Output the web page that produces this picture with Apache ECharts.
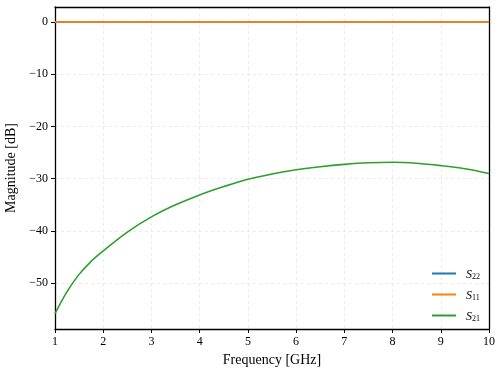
<!DOCTYPE html>
<html>
<head>
<meta charset="utf-8">
<script src="https://cdn.jsdelivr.net/npm/echarts@6/dist/echarts.min.js"></script>
<style>html,body{margin:0;padding:0;background:#fff;}#c{width:504px;height:375px;}</style>
</head>
<body>
<div id="c"></div>
<script>
// Frequencies (GHz)
const freq = [1.0, 1.25, 1.5, 1.75, 2.0, 2.5, 3.0, 3.5, 4.0, 4.5, 5.0, 5.5, 6.0, 6.5, 7.0, 7.5, 8.0, 8.5, 9.0, 9.5, 10.0];
// S22 magnitude (dB)
const s22 = [0, 0, 0, 0, 0, 0, 0, 0, 0, 0, 0, 0, 0, 0, 0, 0, 0, 0, 0, 0, 0];
// S11 magnitude (dB)
const s11 = [0, 0, 0, 0, 0, 0, 0, 0, 0, 0, 0, 0, 0, 0, 0, 0, 0, 0, 0, 0, 0];
// S21 magnitude (dB)
const s21 = [-55.8, -51.6, -48.3, -45.8, -43.8, -40.2, -37.3, -35.0, -33.1, -31.5, -30.1, -29.1, -28.3, -27.7, -27.25, -26.95, -26.85, -27.05, -27.5, -28.1, -29.0];
const seriesNames = ['S22', 'S11', 'S21'];
const xTicks = [1, 2, 3, 4, 5, 6, 7, 8, 9, 10];

const pairs = arr => freq.map((f, i) => [f, arr[i]]);
const serif = 'Liberation Serif';
const chart = echarts.init(document.getElementById('c'), null, {renderer: 'canvas'});
const colors = ['#1f77b4', '#ff7f0e', '#2ca02c'];
const gridLine = {show: true, showMinLine: false, showMaxLine: false, lineStyle: {color: '#e6e6e6', type: [3, 3], width: 0.8}};
const frameAxis = {show: true, onZero: false, lineStyle: {color: '#000', width: 1.3}};
chart.setOption({
  animation: false,
  backgroundColor: '#fff',
  color: colors,
  grid: {left: 55, right: 15, top: 7, bottom: 46, show: false, containLabel: false, outerBoundsMode: 'none'},
  legend: {
    orient: 'vertical', right: 19, top: 264, itemGap: 9,
    icon: 'rect', itemWidth: 24, itemHeight: 2,
    data: seriesNames,
    formatter: n => '{s|S}{sub|' + n.slice(1) + '}',
    textStyle: {
      fontFamily: serif, color: '#000',
      rich: {
        s: {fontFamily: serif, fontStyle: 'italic', fontSize: 12, lineHeight: 15, verticalAlign: 'bottom', color: '#000', padding: [0, 0, 0, 5]},
        sub: {fontFamily: serif, fontSize: 8, lineHeight: 12, verticalAlign: 'bottom', color: '#000'}
      }
    }
  },
  xAxis: [{
    type: 'value', min: xTicks[0], max: xTicks[xTicks.length - 1], interval: 1,
    name: 'Frequency [GHz]', nameLocation: 'middle', nameGap: 23,
    nameTextStyle: {fontFamily: serif, fontSize: 14, color: '#000'},
    axisLine: frameAxis,
    axisTick: {show: true, inside: false, length: 4, lineStyle: {color: '#000'}},
    axisLabel: {fontFamily: serif, fontSize: 12, color: '#000', margin: 7},
    splitLine: gridLine
  }, {
    type: 'value', position: 'top', min: xTicks[0], max: xTicks[xTicks.length - 1], interval: 1,
    axisLine: frameAxis, axisTick: {show: false}, axisLabel: {show: false}, splitLine: {show: false}
  }],
  yAxis: [{
    type: 'value', min: -58.75, max: 2.85, splitNumber: 6,
    name: 'Magnitude [dB]', nameLocation: 'middle', nameGap: 34,
    nameTextStyle: {fontFamily: serif, fontSize: 14, color: '#000'},
    axisLine: frameAxis,
    axisTick: {show: true, inside: false, length: 4, lineStyle: {color: '#000'}},
    axisLabel: {fontFamily: serif, fontSize: 12, color: '#000', margin: 7, showMinLabel: false, showMaxLabel: false,
      formatter: v => (Math.abs(v % 10) > 1e-6 ? '' : String(v).replace('-', '\u2212'))},
    splitLine: gridLine
  }, {
    type: 'value', position: 'right', min: -58.75, max: 2.85,
    axisLine: frameAxis, axisTick: {show: false}, axisLabel: {show: false}, splitLine: {show: false}
  }],
  series: [
    {name: seriesNames[0], type: 'line', data: pairs(s22), showSymbol: false, lineStyle: {width: 1.6}},
    {name: seriesNames[1], type: 'line', data: pairs(s11), showSymbol: false, lineStyle: {width: 1.6}},
    {name: seriesNames[2], type: 'line', data: pairs(s21), showSymbol: false, smooth: 0.35, lineStyle: {width: 1.6}}
  ]
});
</script>
</body>
</html>
